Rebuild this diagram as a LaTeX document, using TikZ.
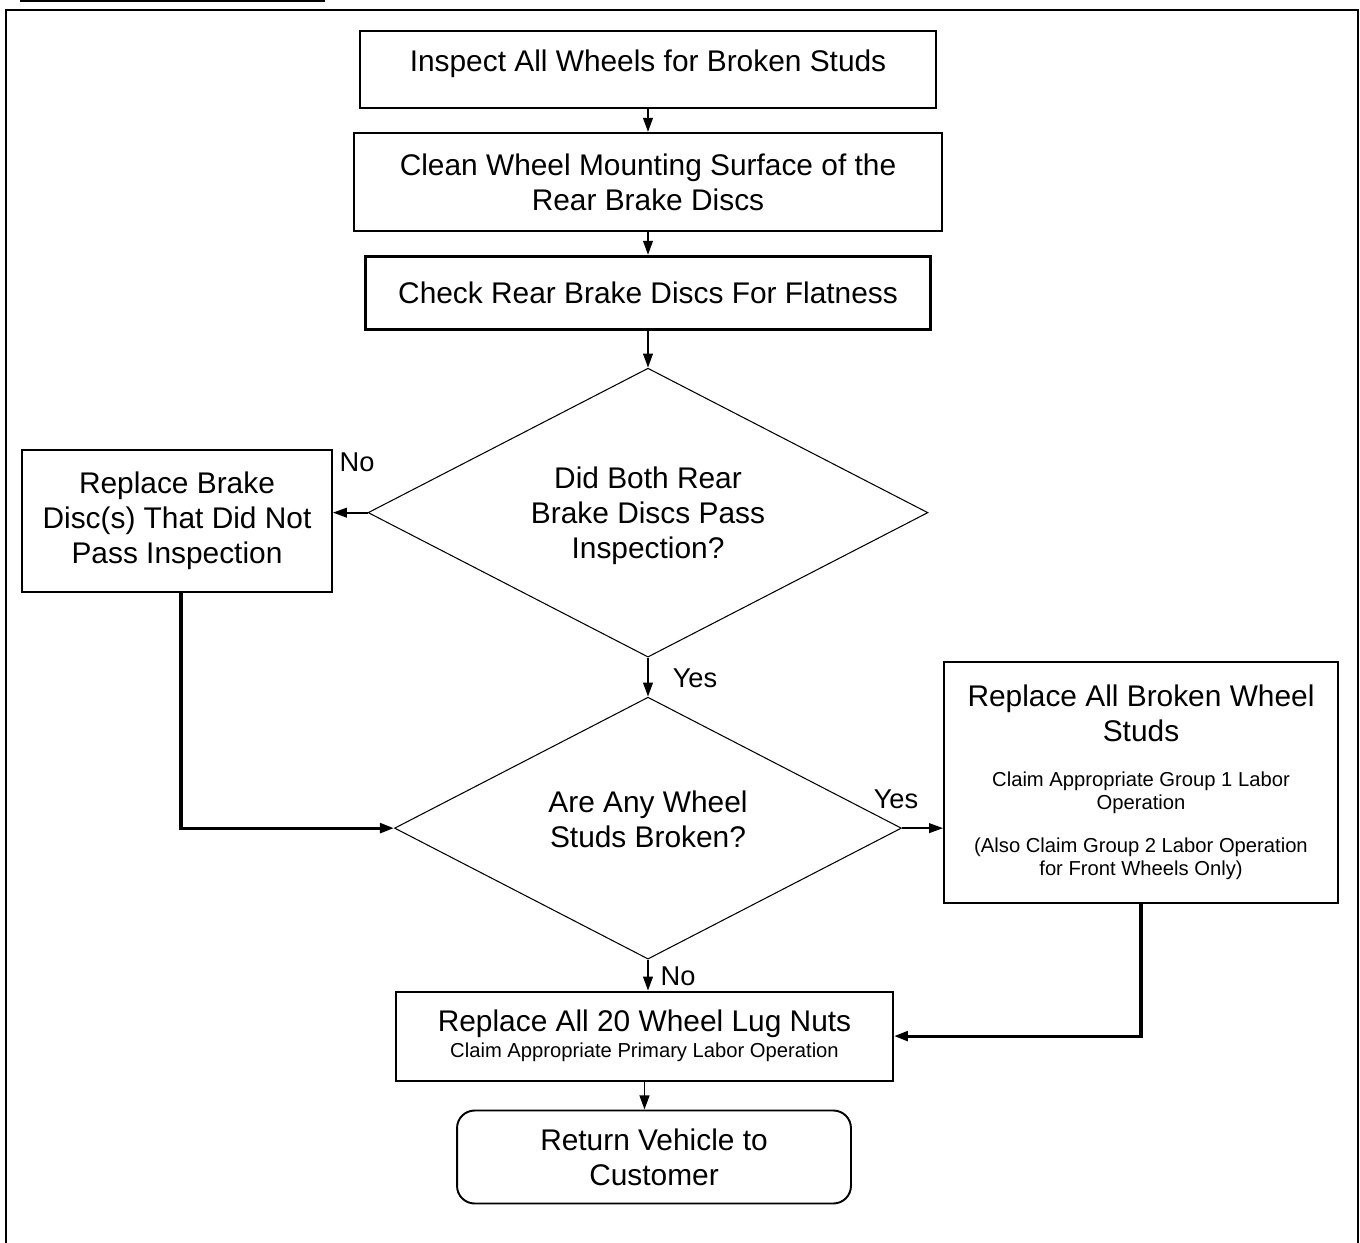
\documentclass[tikz,border=0pt]{standalone}
\usepackage{fontspec}
\setmainfont{Liberation Sans}
\usepackage{tikz}
\usetikzlibrary{arrows.meta,positioning,shapes.geometric}
\newcommand{\bigtxt}{\fontsize{17}{20}\selectfont}
\newcommand{\smalltxt}{\fontsize{11.5}{13}\selectfont}
\newcommand{\lbltxt}{\fontsize{15.5}{18}\selectfont}

\begin{document}
\begin{tikzpicture}[x=0.02cm,y=-0.02cm,every node/.style={font=\bigtxt,align=center,inner sep=0pt},box/.style={draw,line width=1.1pt},decision/.style={draw,diamond,aspect=1.94,line width=0.6pt},flow/.style={line width=1.1pt,-{Triangle[length=8pt,width=5.5pt]}},elbow/.style={flow,line width=1.8pt},answer/.style={font=\lbltxt}]
\useasboundingbox (0,0) rectangle (1360,1243);
\draw[line width=1.2pt] (20,0.6)--(325,0.6);
\draw[line width=1.4pt] (6,1250)--(6,10)--(1358,10)--(1358,1250);
% main column
\node[box,minimum width=11.52cm,minimum height=1.54cm,text depth=10pt] (inspect) at (648,69.5) {Inspect All Wheels for Broken Studs};
\node[box,minimum width=11.78cm,minimum height=1.96cm,below=0.46cm of inspect] (clean) {Clean Wheel Mounting Surface of the\\Rear Brake Discs};
\node[box,line width=1.6pt,minimum width=11.3cm,minimum height=1.46cm,below=0.46cm of clean] (flat) {Check Rear Brake Discs For Flatness};
\node[decision,minimum width=11.2cm,minimum height=5.78cm,text depth=0pt,below=0.74cm of flat] (pass) {Did Both Rear\\Brake Discs Pass\\Inspection?};
\node[decision,minimum width=10.14cm,minimum height=5.24cm,text depth=10pt,below=0.78cm of pass] (broken) {Are Any Wheel\\Studs Broken?};
\node[box,minimum width=9.94cm,minimum height=1.78cm,below=0.62cm of broken,xshift=-0.07cm] (lugs) {Replace All 20 Wheel Lug Nuts\\[-5.3pt]{\smalltxt Claim Appropriate Primary Labor Operation}};
\node[box,rounded corners=10pt,minimum width=7.88cm,minimum height=1.86cm,below=0.56cm of lugs,xshift=0.19cm] (return) {Return Vehicle to\\Customer};
% side boxes
\node[box,minimum width=6.2cm,minimum height=2.84cm] (discs) at (177,521) {Replace Brake\\Disc(s) That Did Not\\Pass Inspection};
\node[box,minimum width=7.88cm,minimum height=4.82cm] (studs) at (1141,782.5) {Replace All Broken Wheel\\Studs\\[5.3pt]{\smalltxt Claim Appropriate Group 1 Labor}\\[-7pt]{\smalltxt Operation}\\[4.9pt]{\smalltxt (Also Claim Group 2 Labor Operation}\\[-7pt]{\smalltxt for Front Wheels Only)}};
% connectors
\draw[flow] (inspect.south)--(clean.north);
\draw[flow] (clean.south)--(flat.north);
\draw[flow] (flat.south)--(pass.north);
\draw[flow] (pass.west)--(pass.west-|discs.east);
\draw[flow] (pass.south)--(broken.north);
\draw[elbow] ([xshift=0.08cm]discs.south)|-(broken.west);
\draw[flow] (broken.east)--(broken.east-|studs.west);
\draw[flow] (broken.south)--(broken.south|-lugs.north);
\draw[elbow] (studs.south)|-(lugs.east);
\draw[flow] (lugs.south)--(lugs.south|-return.north);
% answers
\node[answer] (nopass) at (357,462) {No};
\node[answer] (yespass) at (695,678) {Yes};
\node[answer] (yesbroken) at (896,799) {Yes};
\node[answer] (nobroken) at (678,976) {No};
\end{tikzpicture}
\end{document}
